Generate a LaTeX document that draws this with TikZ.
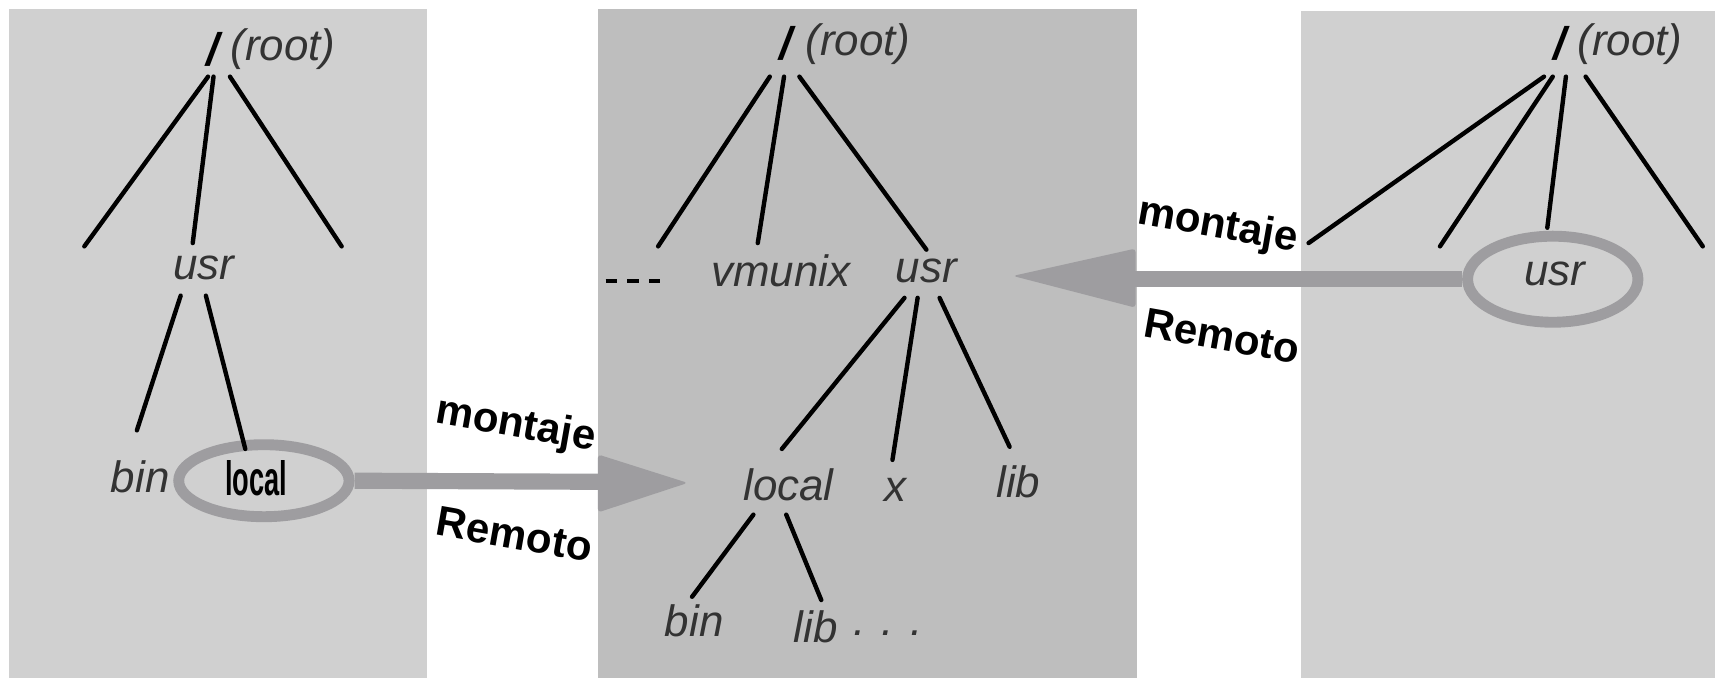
\documentclass[tikz,border=0pt]{standalone}
\usepackage{fontspec}
\setmainfont{Liberation Sans}
\usetikzlibrary{shapes.geometric}
\definecolor{panellight}{HTML}{D0D0D0}
\definecolor{paneldark}{HTML}{BEBEBE}
\definecolor{mountgray}{HTML}{9E9DA0}
\definecolor{labelgray}{HTML}{333333}
\begin{document}
\begin{tikzpicture}[x=0.01095cm,y=-0.01095cm,
  dirname/.style={font=\fontsize{12.5}{14}\selectfont\itshape, text=labelgray, inner sep=0pt},
  rootslash/.style={font=\fontsize{13}{14}\selectfont\bfseries\itshape, text=black, inner sep=0pt},
  branch/.style={line width=1.25pt, line cap=round},
  ring/.style={draw=mountgray, line width=3.1pt, ellipse, inner sep=0pt},
  shaft/.style={draw=mountgray, line width=4.6pt},
  head/.style={fill=mountgray, rounded corners=1pt},
  mountlabel/.style={font=\fontsize{12}{14}\selectfont\bfseries, rotate=-10, inner sep=0pt}]
\useasboundingbox (0,0) rectangle (1568,619);
\fill[white] (0,0) rectangle (1568,619);

% panels
\fill[panellight] (8,8) rectangle (390,619);
\fill[paneldark] (546,8) rectangle (1038,619);
\fill[panellight] (1188,10) rectangle (1566,619);

% ---------- left file system ----------
\node[rootslash] (Lslash) at (194,45) {/};
\node[dirname, anchor=west] (Lroot) at (210,45) {(root)};
\node[dirname] (Lusr) at (186,245) {usr};
\node[dirname] (Lbin) at (128,435) {bin};
\node[ring, minimum width=48.5pt, minimum height=20.5pt] (Lring) at (241,439) {};
\node[inner sep=0pt, text=black] (Llocal) at (234,437)
  {\scalebox{0.62}[1.1]{\fontsize{12.5}{14}\selectfont\bfseries local}};

\coordinate (Lr1) at (190,70);  \coordinate (Lc1) at (77,225);
\coordinate (Lr2) at (195,70);  \coordinate (Lc2) at (176,222);
\coordinate (Lr3) at (210,70);  \coordinate (Lc3) at (312,225);
\coordinate (Lu1) at (165,270); \coordinate (Lbinend) at (125,393);
\coordinate (Lu2) at (188,270); \coordinate (Llocend) at (224,410);
\draw[branch] (Lr1) -- (Lc1);
\draw[branch] (Lr2) -- (Lc2);
\draw[branch] (Lr3) -- (Lc3);
\draw[branch] (Lu1) -- (Lbinend);
\draw[branch] (Lu2) -- (Llocend);

% ---------- central file system ----------
\node[rootslash] (Mslash) at (718,40) {/};
\node[dirname, anchor=west] (Mroot) at (735,40) {(root)};
\node[inner sep=0pt] (Mdots) at (578,257)
  {\rule{3.2pt}{1.1pt}\hspace{3pt}\rule{3.2pt}{1.1pt}\hspace{3pt}\rule{3.2pt}{1.1pt}};
\node[dirname] (Mvmunix) at (713,247) {vmunix};
\node[dirname] (Musr) at (846,247) {usr};
\node[dirname] (Mlocal) at (720,443) {local};
\node[dirname] (Mx) at (818,447) {x};
\node[dirname] (Mlib) at (930,440) {lib};
\node[dirname] (Mbin) at (634,567) {bin};
\node[dirname] (Mlib2) at (745,572) {lib};
\node[dirname, anchor=base] (Mmore) at (811,580) {. . .};

\coordinate (Mr1) at (703,70);  \coordinate (Mc1) at (601,225);
\coordinate (Mr2) at (716,70);  \coordinate (Mc2) at (692,222);
\coordinate (Mr3) at (730,70);  \coordinate (Mc3) at (846,228);
\coordinate (Mu1) at (826,272); \coordinate (Mlocend) at (714,410);
\coordinate (Mu2) at (838,272); \coordinate (Mxend) at (815,420);
\coordinate (Mu3) at (858,272); \coordinate (Mlibend) at (922,408);
\coordinate (Ml1) at (688,470); \coordinate (Mbinend) at (632,545);
\coordinate (Ml2) at (718,470); \coordinate (Mlib2end) at (750,548);
\draw[branch] (Mr1) -- (Mc1);
\draw[branch] (Mr2) -- (Mc2);
\draw[branch] (Mr3) -- (Mc3);
\draw[branch] (Mu1) -- (Mlocend);
\draw[branch] (Mu2) -- (Mxend);
\draw[branch] (Mu3) -- (Mlibend);
\draw[branch] (Ml1) -- (Mbinend);
\draw[branch] (Ml2) -- (Mlib2end);

% ---------- right (remote) file system ----------
\node[rootslash] (Rslash) at (1424,40) {/};
\node[dirname, anchor=west] (Rroot) at (1440,40) {(root)};
\node[ring, minimum width=48.5pt, minimum height=24.5pt] (Rring) at (1418,255) {};
\node[dirname] (Rusr) at (1420,250) {usr};

\coordinate (Rr1) at (1410,70); \coordinate (Rc1) at (1195,222);
\coordinate (Rr2) at (1418,70); \coordinate (Rc2) at (1315,225);
\coordinate (Rr3) at (1430,70); \coordinate (Rc3) at (1413,208);
\coordinate (Rr4) at (1448,70); \coordinate (Rc4) at (1555,225);
\draw[branch] (Rr1) -- (Rc1);
\draw[branch] (Rr2) -- (Rc2);
\draw[branch] (Rr3) -- (Rc3);
\draw[branch] (Rr4) -- (Rc4);

% ---------- mount arrows ----------
\coordinate (LheadT) at (546,415);
\coordinate (Ltip) at (628,441);
\coordinate (LheadB) at (546,468);
\coordinate (Lbase) at (548,440);
\draw[shaft] (Lring.east) -- (Lbase);
\fill[head] (LheadT) -- (Ltip) -- (LheadB) -- cycle;

\coordinate (RheadT) at (1037,227);
\coordinate (Rtip) at (925,252);
\coordinate (RheadB) at (1037,281);
\coordinate (Rbase) at (1035,255);
\draw[shaft] (Rring.west) -- (Rbase);
\fill[head] (RheadT) -- (Rtip) -- (RheadB) -- cycle;

\node[mountlabel] (Lmont) at (471,389) {montaje};
\node[mountlabel] (Lrem) at (470,488) {Remoto};
\node[mountlabel] (Rmont) at (1112,207) {montaje};
\node[mountlabel] (Rrem) at (1116,307) {Remoto};
\end{tikzpicture}
\end{document}
